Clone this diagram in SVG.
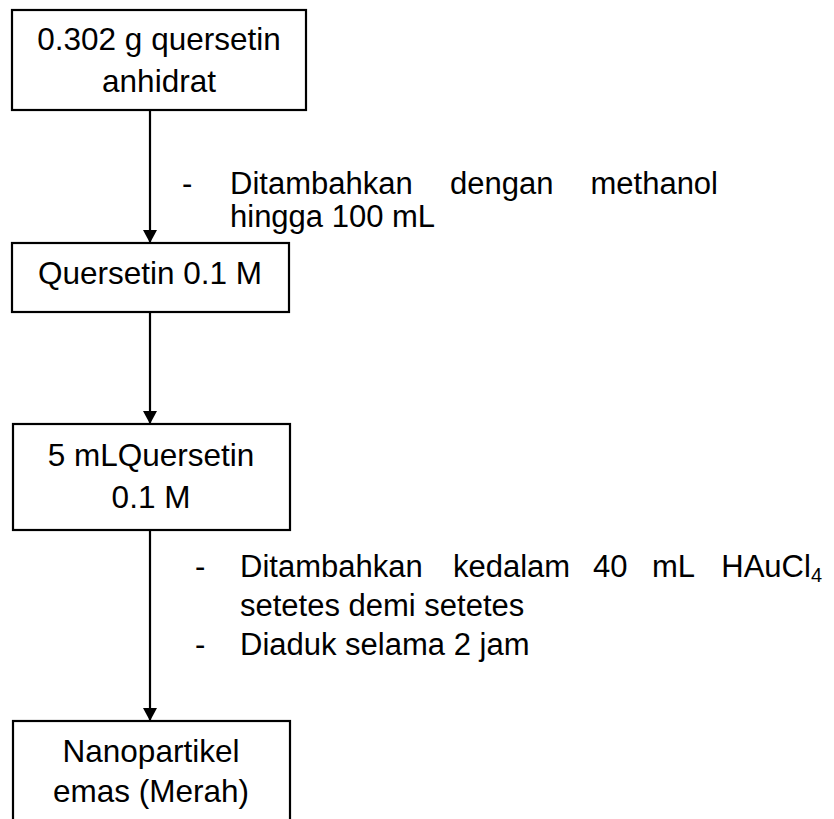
<svg xmlns="http://www.w3.org/2000/svg" width="834" height="819" viewBox="0 0 834 819">
<style>
.box{fill:#fff;stroke:#000;stroke-width:2.2}
.t{font-family:"Liberation Sans",Arial,sans-serif;font-size:31.5px;fill:#000;text-anchor:middle}
.a{font-family:"Liberation Sans",Arial,sans-serif;font-size:31px;fill:#000}
.c{stroke:#000;stroke-width:2.2;fill:none;marker-end:url(#ah)}
</style>
<defs>
<marker id="ah" markerWidth="13" markerHeight="14" refX="13" refY="7" orient="auto" markerUnits="userSpaceOnUse" viewBox="0 0 13 14">
<path d="M0,0 L13,7 L0,14 z" fill="#000"/>
</marker>
</defs>
<rect width="834" height="819" fill="#fff"/>
<g id="connectors">
<line class="c" x1="150" y1="110" x2="150" y2="243"/>
<line class="c" x1="150" y1="312" x2="150" y2="424"/>
<line class="c" x1="150" y1="530" x2="150" y2="721"/>
</g>
<g id="n1">
<rect class="box" x="12" y="10" width="294" height="100"/>
<text class="t" x="159" y="50">0.302 g quersetin</text>
<text class="t" x="159" y="92">anhidrat</text>
</g>
<g id="n2">
<rect class="box" x="12" y="243" width="277" height="69"/>
<text class="t" x="150" y="284">Quersetin 0.1 M</text>
</g>
<g id="n3">
<rect class="box" x="13" y="424" width="277" height="106"/>
<text class="t" x="151" y="466">5 mLQuersetin</text>
<text class="t" x="151" y="508">0.1 M</text>
</g>
<g id="n4">
<rect class="box" x="13" y="721" width="277" height="110"/>
<text class="t" x="151" y="762">Nanopartikel</text>
<text class="t" x="151" y="802">emas (Merah)</text>
</g>
<g id="note1">
<text class="a" x="182" y="194">-</text>
<text class="a" x="230" y="194">Ditambahkan</text>
<text class="a" x="450" y="194">dengan</text>
<text class="a" x="718" y="194" text-anchor="end">methanol</text>
<text class="a" x="230" y="227">hingga 100 mL</text>
</g>
<g id="note2">
<text class="a" x="195" y="577">-</text>
<text class="a" x="240" y="577">Ditambahkan</text>
<text class="a" x="453" y="577">kedalam</text>
<text class="a" x="593" y="577">40</text>
<text class="a" x="652" y="577">mL</text>
<text class="a" x="822" y="577" text-anchor="end">HAuCl<tspan font-size="20" dy="5">4</tspan></text>
<text class="a" x="240" y="616">setetes demi setetes</text>
<text class="a" x="195" y="655">-</text>
<text class="a" x="240" y="655">Diaduk selama 2 jam</text>
</g>
</svg>
